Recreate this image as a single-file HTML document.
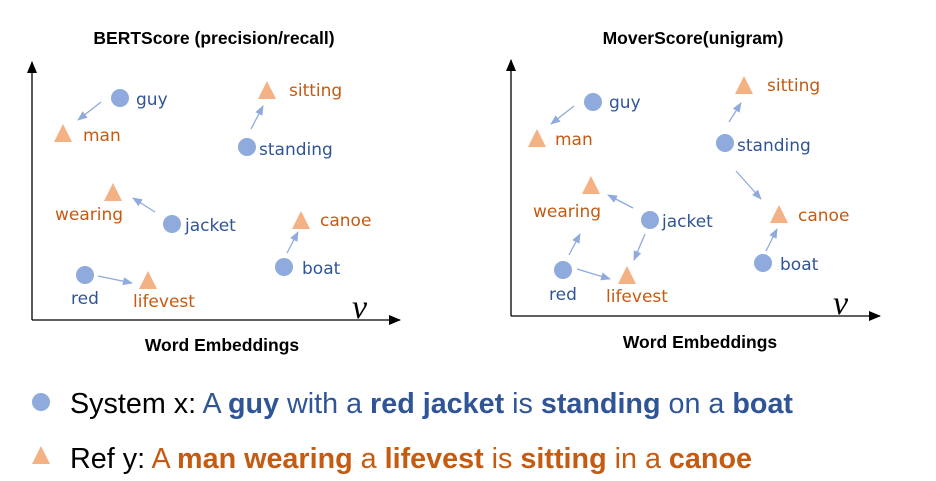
<!DOCTYPE html>
<html><head><meta charset="utf-8"><style>
html,body{margin:0;padding:0;background:#fff;}
svg{display:block;}
.t{font-family:"Liberation Sans",sans-serif;font-weight:bold;font-size:17.5px;fill:#000;}
.b{font-family:"DejaVu Sans","Liberation Sans",sans-serif;font-size:17px;fill:#2f5597;}
.o{font-family:"DejaVu Sans","Liberation Sans",sans-serif;font-size:17px;fill:#c55a11;}
.c{fill:#8faadc;}
.tr{fill:#f4b183;}
.a{stroke:#8faadc;stroke-width:1.3;fill:none;marker-end:url(#ah);}
.ax{stroke:#000;stroke-width:1.3;}
.lg{font-family:"Liberation Sans",sans-serif;font-size:29px;}
</style></head><body>
<svg width="936" height="481" viewBox="0 0 936 481" xmlns="http://www.w3.org/2000/svg">
<defs>
<marker id="ah" markerWidth="10" markerHeight="8" refX="9" refY="4" orient="auto" markerUnits="userSpaceOnUse"><path d="M0,0 L10,4 L0,8 Z" fill="#8faadc"/></marker>
<marker id="bk" markerWidth="12" markerHeight="10" refX="11" refY="5" orient="auto" markerUnits="userSpaceOnUse"><path d="M0,0 L12,5 L0,10 Z" fill="#000"/></marker>
</defs>

<text class="t" x="214" y="44" text-anchor="middle">BERTScore (precision/recall)</text>
<line class="ax" x1="32" y1="320" x2="32" y2="62" marker-end="url(#bk)"/>
<line class="ax" x1="32" y1="320" x2="400" y2="320" marker-end="url(#bk)"/>
<text x="352" y="318" font-family="Liberation Serif,serif" font-style="italic" font-size="34">v</text>
<text class="t" x="222" y="351" text-anchor="middle">Word Embeddings</text>

<circle class="c" cx="120" cy="98" r="9"/><text class="b" x="136" y="105">guy</text>
<polygon class="tr" points="63,124 72,142 54,142"/><text class="o" x="83" y="141">man</text>
<line class="a" x1="101" y1="102" x2="78" y2="120"/>
<polygon class="tr" points="267,81 276,99 258,99"/><text class="o" x="289" y="96">sitting</text>
<circle class="c" cx="247" cy="147" r="9"/><text class="b" x="259" y="155">standing</text>
<line class="a" x1="251" y1="129" x2="263" y2="106"/>
<polygon class="tr" points="113,183 122,201 104,201"/><text class="o" x="55" y="220">wearing</text>
<circle class="c" cx="172" cy="224" r="9"/><text class="b" x="185" y="231">jacket</text>
<line class="a" x1="155" y1="212" x2="133" y2="198"/>
<polygon class="tr" points="301,211 310,229 292,229"/><text class="o" x="320" y="226">canoe</text>
<circle class="c" cx="284" cy="267" r="9"/><text class="b" x="302" y="274">boat</text>
<line class="a" x1="287" y1="253" x2="298" y2="232"/>
<circle class="c" cx="85" cy="275" r="9"/><text class="b" x="71" y="304">red</text>
<polygon class="tr" points="148,271 157,289 139,289"/><text class="o" x="133" y="307">lifevest</text>
<line class="a" x1="98" y1="276" x2="132" y2="283"/>

<text class="t" x="693" y="44" text-anchor="middle">MoverScore(unigram)</text>
<line class="ax" x1="511" y1="316" x2="511" y2="60" marker-end="url(#bk)"/>
<line class="ax" x1="511" y1="316" x2="880" y2="316" marker-end="url(#bk)"/>
<text x="833" y="314" font-family="Liberation Serif,serif" font-style="italic" font-size="34">v</text>
<text class="t" x="700" y="348" text-anchor="middle">Word Embeddings</text>

<circle class="c" cx="593" cy="102" r="9"/><text class="b" x="609" y="108">guy</text>
<polygon class="tr" points="537,129 546,147 528,147"/><text class="o" x="555" y="145">man</text>
<line class="a" x1="574" y1="106" x2="551" y2="124"/>
<polygon class="tr" points="744,76 753,94 735,94"/><text class="o" x="767" y="91">sitting</text>
<circle class="c" cx="725" cy="143" r="9"/><text class="b" x="737" y="151">standing</text>
<line class="a" x1="729" y1="122" x2="741" y2="103"/>
<line class="a" x1="736" y1="171" x2="761" y2="199"/>
<polygon class="tr" points="591,176 600,194 582,194"/><text class="o" x="533" y="217">wearing</text>
<circle class="c" cx="650" cy="220" r="9"/><text class="b" x="662" y="227">jacket</text>
<line class="a" x1="633" y1="208" x2="608" y2="195"/>
<line class="a" x1="645" y1="234" x2="634" y2="260"/>
<polygon class="tr" points="779,205 788,223 770,223"/><text class="o" x="798" y="221">canoe</text>
<circle class="c" cx="763" cy="263" r="9"/><text class="b" x="780" y="270">boat</text>
<line class="a" x1="766" y1="251" x2="777" y2="229"/>
<circle class="c" cx="563" cy="270" r="9"/><text class="b" x="549" y="300">red</text>
<polygon class="tr" points="627,266 636,284 618,284"/><text class="o" x="606" y="302">lifevest</text>
<line class="a" x1="569" y1="255" x2="580" y2="234"/>
<line class="a" x1="577" y1="269" x2="610" y2="279"/>

<circle class="c" cx="41" cy="402" r="9"/>
<text class="lg" x="70" y="413" textLength="723" lengthAdjust="spacingAndGlyphs"><tspan fill="#000">System x: </tspan><tspan fill="#2f5597">A </tspan><tspan fill="#2f5597" font-weight="bold">guy</tspan><tspan fill="#2f5597"> with a </tspan><tspan fill="#2f5597" font-weight="bold">red jacket</tspan><tspan fill="#2f5597"> is </tspan><tspan fill="#2f5597" font-weight="bold">standing</tspan><tspan fill="#2f5597"> on a </tspan><tspan fill="#2f5597" font-weight="bold">boat</tspan></text>
<polygon class="tr" points="41,446 50,464 32,464"/>
<text class="lg" x="70" y="468" textLength="682" lengthAdjust="spacingAndGlyphs"><tspan fill="#000">Ref y: </tspan><tspan fill="#c55a11">A </tspan><tspan fill="#c55a11" font-weight="bold">man wearing</tspan><tspan fill="#c55a11"> a </tspan><tspan fill="#c55a11" font-weight="bold">lifevest</tspan><tspan fill="#c55a11"> is </tspan><tspan fill="#c55a11" font-weight="bold">sitting</tspan><tspan fill="#c55a11"> in a </tspan><tspan fill="#c55a11" font-weight="bold">canoe</tspan></text>
</svg>
</body></html>
